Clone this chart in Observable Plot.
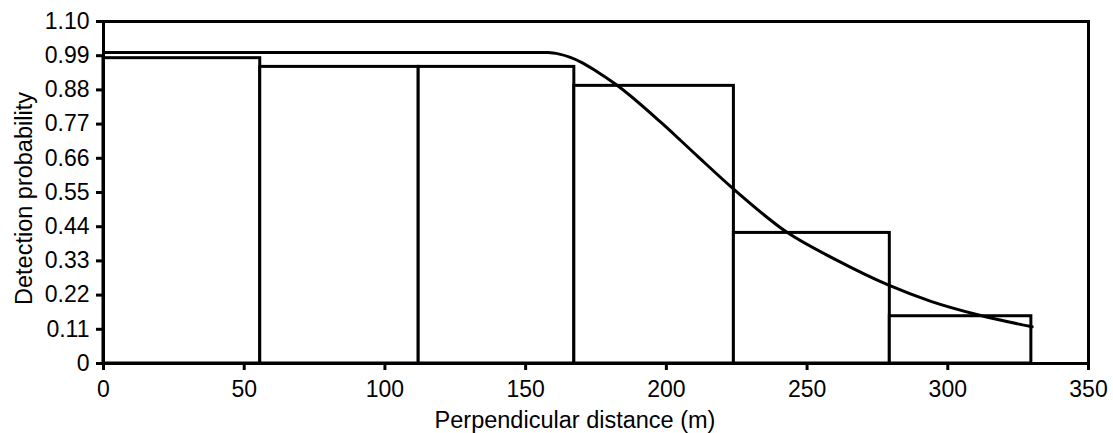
<!DOCTYPE html>
<html>
<head>
<meta charset="utf-8">
<script src="https://cdn.jsdelivr.net/npm/d3@7"></script>
<script src="https://cdn.jsdelivr.net/npm/@observablehq/plot@0.6"></script>
<style>
  html, body { margin: 0; padding: 0; background: #fff; }
  #chart svg { display: block; }
</style>
</head>
<body>
<div id="chart"></div>
<script>
// Histogram bins (perpendicular distance, m) and detection probability per bin
const binStart = [0, 55.7, 112, 167.3, 224, 279.4];
const binEnd   = [55.7, 112, 167.3, 224, 279.4, 329.7];
const binProb  = [0.982, 0.954, 0.954, 0.893, 0.42, 0.152];

// Fitted detection function
const curveDist = [0, 150, 158, 162, 170, 175, 182, 198, 205, 212, 223, 243, 260, 279, 294, 311, 330];
const curveProb = [1.0, 1.0, 1.0, 0.995, 0.968, 0.941, 0.898, 0.776, 0.718, 0.659, 0.568, 0.421, 0.335, 0.252, 0.2, 0.156, 0.118];

// Axis ticks
const xTicks = [0, 50, 100, 150, 200, 250, 300, 350];
const yTicks = [0, 0.11, 0.22, 0.33, 0.44, 0.55, 0.66, 0.77, 0.88, 0.99, 1.10];
const yTickLabels = ["0", "0.11", "0.22", "0.33", "0.44", "0.55", "0.66", "0.77", "0.88", "0.99", "1.10"];

const xLabel = "Perpendicular distance (m)";
const yLabel = "Detection probability";

const bins = binStart.map((s, i) => ({x1: s, x2: binEnd[i], p: binProb[i]}));
const curve = curveDist.map((d, i) => ({d, p: curveProb[i]}));

const font = "'Liberation Sans', Arial, Helvetica, sans-serif";

const chart = Plot.plot({
  width: 1113,
  height: 433,
  marginLeft: 103,
  marginRight: 25,
  marginTop: 21,
  marginBottom: 70,
  style: {fontFamily: font, fontSize: "23px", color: "#000", background: "#fff"},
  x: {domain: [0, 350]},
  y: {domain: [0, 1.1]},
  marks: [
    Plot.rect(bins, {x1: "x1", x2: "x2", y1: 0, y2: "p", fill: "white", stroke: "black", strokeWidth: 3}),
    Plot.line(curve, {x: "d", y: "p", curve: "monotone-x", stroke: "black", strokeWidth: 3}),
    Plot.frame({stroke: "black", strokeWidth: 3}),
    Plot.axisX({ticks: xTicks, tickSize: 7, tickPadding: 10, strokeWidth: 3, fontSize: 23, label: null, tickFormat: d => String(d)}),
    Plot.axisY({ticks: yTicks, tickSize: 7, tickPadding: 7, strokeWidth: 3, fontSize: 23, label: null, tickFormat: (d, i) => yTickLabels[i]}),
    Plot.text([xLabel], {text: d => d, frameAnchor: "bottom", lineAnchor: "middle", dy: 57, dx: -21, fontSize: 23.5, fill: "black"}),
    Plot.text([yLabel], {text: d => d, frameAnchor: "left", textAnchor: "middle", lineAnchor: "middle", rotate: -90, dx: -79, dy: 6, fontSize: 23.5, fill: "black"})
  ]
});
document.getElementById("chart").appendChild(chart);
</script>
</body>
</html>
